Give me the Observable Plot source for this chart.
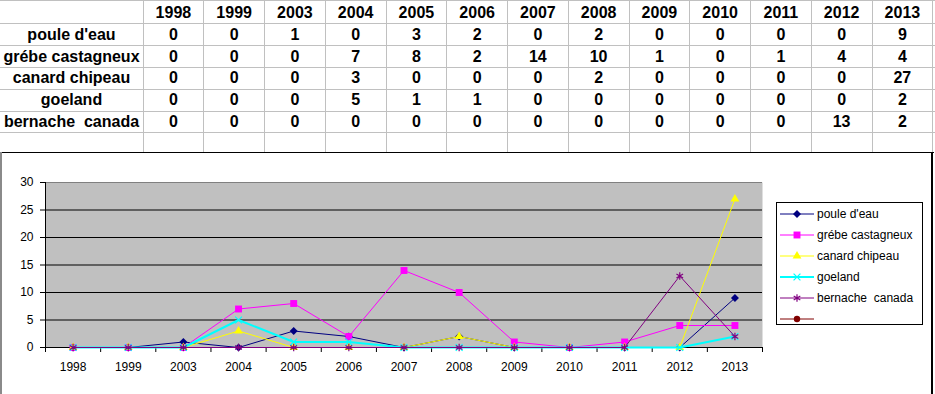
<!DOCTYPE html>
<html><head><meta charset="utf-8">
<script src="https://cdn.jsdelivr.net/npm/d3@7"></script>
<script src="https://cdn.jsdelivr.net/npm/@observablehq/plot@0.6"></script>
<style>
body{margin:0;background:#fff;}
#root{position:relative;width:935px;height:394px;overflow:hidden;font-family:"Liberation Sans",Arial,sans-serif;background:#fff;}
.cell{position:absolute;box-sizing:border-box;text-align:center;font-weight:bold;font-size:16px;white-space:pre;color:#000;}
.ln{position:absolute;background:#c0c0c0;}
.leg{position:absolute;box-sizing:border-box;border:1px solid #000;background:#fff;}
.legrow{position:absolute;left:0;height:20px;font-size:12px;white-space:pre;color:#000;}
</style></head><body><div id="root"></div>
<script>
// ---- data ----
const years = ["1998","1999","2003","2004","2005","2006","2007","2008","2009","2010","2011","2012","2013"];
const seriesNames = ["poule d'eau", "grébe castagneux", "canard chipeau", "goeland", "bernache  canada", ""];
const poule = [0,0,1,0,3,2,0,2,0,0,0,0,9];
const grebe = [0,0,0,7,8,2,14,10,1,0,1,4,4];
const canard = [0,0,0,3,0,0,0,2,0,0,0,0,27];
const goeland = [0,0,0,5,1,1,0,0,0,0,0,0,2];
const bernache = [0,0,0,0,0,0,0,0,0,0,0,13,2];
const extra = [];
const yTicks = [0,5,10,15,20,25,30];
const gridValues = [5,10,15,20,25];

// ---- styles ----
const seriesValues = [poule, grebe, canard, goeland, bernache, extra];
const styles = [
  {color:"#000080", symbol:"diamond2", r:3.6, filled:true, width:1},
  {color:"#FF00FF", symbol:"square2", r:4.4, filled:true, width:1},
  {color:"#FFFF00", symbol:"triangle2", r:4.2, filled:true, width:1},
  {color:"#00FFFF", symbol:"times", r:3.2, filled:false, width:2},
  {color:"#800080", symbol:"asterisk", r:3.6, filled:false, width:1},
  {color:"#800000", symbol:"circle", r:3.2, filled:true, width:1}
];

const root = document.getElementById("root");
function div(cls, css, text){
  const d = document.createElement("div");
  d.className = cls;
  Object.assign(d.style, css);
  if (text !== undefined) d.textContent = text;
  root.appendChild(d);
  return d;
}

// ---- spreadsheet table ----
const col0W = 143, colW = 60.75, rowTop = 2, rowH = 21.8;
const nRows = 7; // header + 5 series + empty row
div("ln", {left:"0px", top:"0px", width:"935px", height:"1px"});
for (let r = 1; r < nRows; r++) {
  div("ln", {left:"0px", top:(rowTop + r*rowH - 0.5)+"px", width:"935px", height:"1px"});
}
for (let k = 0; k <= years.length; k++) {
  div("ln", {left:(col0W + k*colW - 0.5)+"px", top:"0px", width:"1px", height:"152px"});
}
years.forEach((y, j) => {
  div("cell", {left:(col0W + j*colW)+"px", top:rowTop+"px", width:colW+"px", height:rowH+"px", lineHeight:rowH+"px"}, y);
});
seriesNames.slice(0,5).forEach((name, i) => {
  const top = rowTop + (i+1)*rowH;
  div("cell", {left:"0px", top:top+"px", width:col0W+"px", height:rowH+"px", lineHeight:rowH+"px"}, name);
  seriesValues[i].forEach((v, j) => {
    div("cell", {left:(col0W + j*colW)+"px", top:top+"px", width:colW+"px", height:rowH+"px", lineHeight:rowH+"px"}, String(v));
  });
});

// ---- chart object borders ----
div("", {position:"absolute", left:"0px", top:"152px", width:"934px", height:"1px", background:"#000"});
div("", {position:"absolute", left:"931px", top:"152px", width:"2px", height:"242px", background:"#000"});
div("", {position:"absolute", left:"0px", top:"152px", width:"2px", height:"242px", background:"#8a8a8a"});

// ---- chart ----
const boundaries = years.map((_, i) => i - 0.5).concat([years.length - 0.5]);
const marks = [
  Plot.frame({fill:"#C0C0C0", stroke:"none"}),
  Plot.ruleY(gridValues, {stroke:"#000", strokeWidth:1}),
  Plot.ruleY([30], {stroke:"#808080", strokeWidth:1}),
  Plot.ruleX([-0.5], {stroke:"#000", strokeWidth:1}),
  Plot.ruleY([0], {stroke:"#000", strokeWidth:1}),
  Plot.ruleX(boundaries, {x:d => d, y1:0, y2:0, insetBottom:-5, stroke:"#000", strokeWidth:1})
];
seriesNames.forEach((name, i) => {
  const vals = seriesValues[i];
  if (!vals.length) return;
  const data = vals.map((v, j) => ({idx:j, year:years[j], value:v}));
  const st = styles[i];
  marks.push(Plot.line(data, {x:"idx", y:"value", stroke:st.color, strokeWidth:st.width}));
  marks.push(Plot.dot(data, st.filled
    ? {x:"idx", y:"value", symbol:st.symbol, r:st.r, fill:st.color, stroke:"none"}
    : {x:"idx", y:"value", symbol:st.symbol, r:st.r, fill:"none", stroke:st.color, strokeWidth:1.2}));
});

const chart = Plot.plot({
  width: 935, height: 242,
  marginTop: 30, marginBottom: 47, marginLeft: 45, marginRight: 173,
  style: {fontFamily:'"Liberation Sans", Arial, sans-serif', fontSize:"12px", color:"#000", background:"transparent", overflow:"visible"},
  x: {domain:[-0.5, years.length - 0.5], ticks: years.map((_, i) => i), tickFormat: i => years[i], tickSize: 0, tickPadding: 15, label: null},
  y: {domain:[0, 30], ticks: yTicks, tickSize: 5, tickPadding: 7, label: null},
  marks
});
d3.select(chart).selectAll("text").attr("font-size", null).style("font-size", "12px");
d3.select(chart).selectAll("g").filter(function(){ return this.getAttribute("font-size"); }).attr("font-size", 12);
chart.style.position = "absolute";
chart.style.left = "0px";
chart.style.top = "152px";
root.appendChild(chart);

// ---- legend ----
const leg = div("leg", {left:"776px", top:"202px", width:"147px", height:"123px"});
const rowCenters0 = 11;
const symMap = {diamond2:d3.symbolDiamond2, square2:d3.symbolSquare2, triangle2:d3.symbolTriangle2, times:d3.symbolTimes, asterisk:d3.symbolAsterisk, circle:d3.symbolCircle};
seriesNames.forEach((name, i) => {
  const st = styles[i];
  const row = document.createElement("div");
  row.className = "legrow";
  row.style.top = (rowCenters0 + i*21 - 10) + "px";
  row.style.width = "145px";
  const svg = d3.create("svg").attr("width", 40).attr("height", 20)
    .style("position","absolute").style("left","0px").style("top","0px");
  svg.append("line").attr("x1", 3).attr("x2", 37).attr("y1", 10).attr("y2", 10)
    .attr("stroke", st.color).attr("stroke-width", st.width);
  const path = d3.symbol(symMap[st.symbol], st.r*st.r*Math.PI)();
  svg.append("path").attr("d", path).attr("transform", "translate(20,10)")
    .attr("fill", st.filled ? st.color : "none")
    .attr("stroke", st.filled ? "none" : st.color)
    .attr("stroke-width", 1.2);
  row.appendChild(svg.node());
  const t = document.createElement("span");
  t.textContent = name;
  Object.assign(t.style, {position:"absolute", left:"40px", top:"0px", lineHeight:"20px"});
  row.appendChild(t);
  leg.appendChild(row);
});
</script>
</body></html>
